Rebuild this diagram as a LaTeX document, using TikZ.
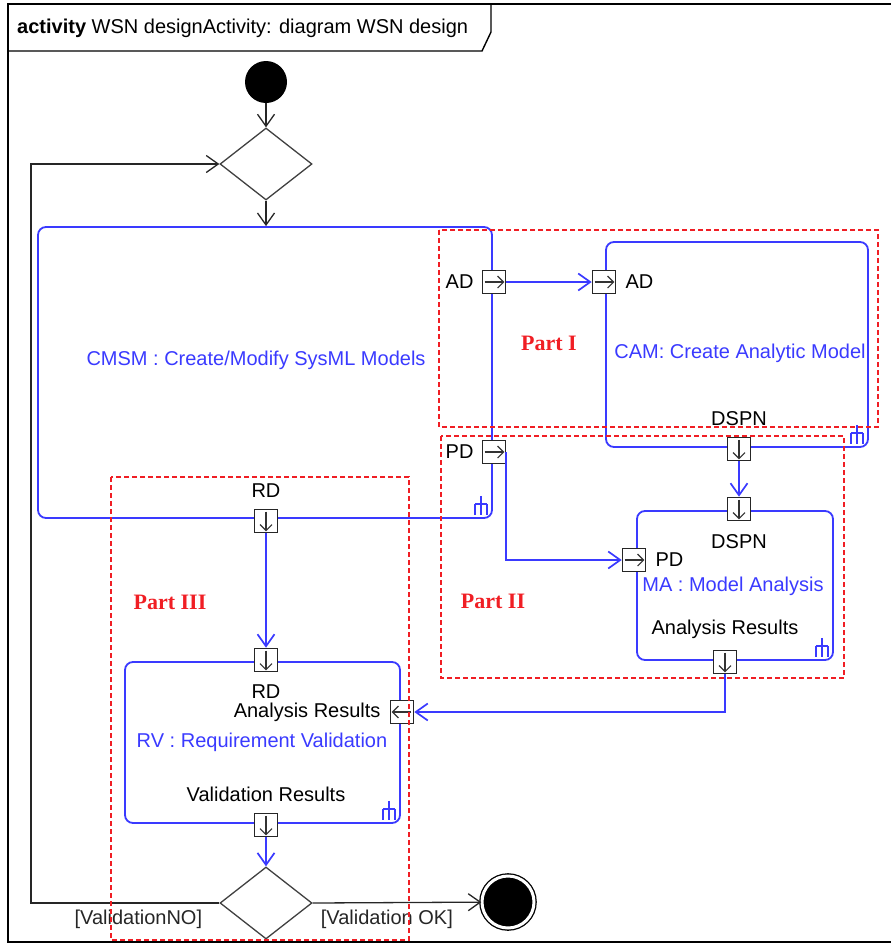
\documentclass[tikz,border=0pt]{standalone}
\usepackage{fontspec}
\setmainfont{Liberation Sans}
\newfontfamily\partfont{Liberation Serif}
\usetikzlibrary{shapes.geometric, arrows.meta, positioning, fit, backgrounds}
\definecolor{umlblue}{RGB}{58,58,255}
\definecolor{partred}{RGB}{240,30,36}

\begin{document}
\begin{tikzpicture}[
  x=1pt, y=-1pt,
  >={Straight Barb[length=12pt, width=17pt]},
  every node/.style={font=\fontsize{20}{24}\selectfont},
  action/.style={rectangle, rounded corners=8pt, draw=umlblue, line width=1.8pt, inner sep=0pt},
  pinbox/.style={rectangle, draw=black!85, fill=white, line width=1.6pt, minimum size=23pt, inner sep=0pt},
  pinlbl/.style={inner sep=0pt},
  pinarrow/.style={draw=black!80, line width=1.1pt, -{Straight Barb[length=6pt, width=12pt]}},
  decision/.style={diamond, draw=black!75, line width=1.3pt, minimum width=92pt, minimum height=72pt, inner sep=0pt},
  flow/.style={draw=umlblue, line width=1.7pt, ->},
  ctrl/.style={draw=black!85, line width=1.3pt, ->},
  part/.style={draw=partred, dashed, dash pattern=on 5pt off 3pt, line width=1.3pt},
  partlbl/.style={text=partred, font=\partfont\bfseries\fontsize{22}{26}\selectfont},
  actlbl/.style={text=umlblue},
  frame/.style={draw=black, line width=1.4pt},
  rake/.pic={\draw[umlblue, line width=1.6pt] (0,-8) -- (0,0) (-6,0) -- (6,0)
    (-6,0) -- (-6,11) (0,0) -- (0,11) (6,0) -- (6,11);},
]
\useasboundingbox (0,0) rectangle (891,945);

% frame and title tab
\draw[frame] (891,4) -- (8,4) -- (8,942) -- (891,942);
\draw[frame] (8,51) -- (482,51) -- (491,32) -- (491,4);
\node[anchor=west, inner sep=0pt] (title) at (17,28) {\textbf{activity} WSN designActivity: diagram WSN design};

% initial node and first decision
\node[circle, fill=black, minimum size=42pt, inner sep=0pt] (start) at (266,82) {};
\node[decision] (dec1) at (266,164) {};

% CMSM
\node[action, minimum width=454pt, minimum height=291pt] (cmsm) at (265,372.5) {};
\node[actlbl] (cmsmlbl) at (256,360) {CMSM : Create/Modify SysML Models};
\node[pinbox] (adout) at (494,282) {};
\node[pinlbl, left=8pt of adout] (adoutlbl) {AD};
\node[pinbox] (pdout) at (494,452) {};
\node[pinlbl, left=8pt of pdout] (pdoutlbl) {PD};
\node[pinbox] (rdout) at (266,521) {};
\node[pinlbl, above=11pt of rdout] (rdoutlbl) {RD};
\pic at ([shift={(-12,-15)}]cmsm.south east) {rake};

% CAM
\node[action, minimum width=262pt, minimum height=205pt] (cam) at (737,344.5) {};
\node[actlbl] (camlbl) at (740,353) {CAM: Create Analytic Model};
\node[pinbox] (adin) at (604,282) {};
\node[pinlbl, right=9pt of adin] (adinlbl) {AD};
\node[pinbox] (dspnout) at (739,449) {};
\node[pinlbl, above=11pt of dspnout] (dspnoutlbl) {DSPN};
\pic at ([shift={(-12,-15)}]cam.south east) {rake};

% MA
\node[action, minimum width=196pt, minimum height=149pt] (ma) at (735,585.5) {};
\node[actlbl] (malbl) at (733,586) {MA : Model Analysis};
\node[pinbox] (dspnin) at (739,509) {};
\node[pinlbl, below=13pt of dspnin] (dspninlbl) {DSPN};
\node[pinbox] (pdin) at (634,560) {};
\node[pinlbl, right=9pt of pdin] (pdinlbl) {PD};
\node[pinbox] (arout) at (725,662) {};
\node[pinlbl, above=11pt of arout] (aroutlbl) {Analysis Results};
\pic at ([shift={(-12,-15)}]ma.south east) {rake};

% RV
\node[action, minimum width=275pt, minimum height=161pt] (rv) at (262.5,742.5) {};
\node[actlbl] (rvlbl) at (262,742) {RV : Requirement Validation};
\node[pinbox] (rdin) at (266,660) {};
\node[pinlbl, below=12pt of rdin] (rdinlbl) {RD};
\node[pinbox] (arin) at (402,712) {};
\node[pinlbl, left=9pt of arin] (arinlbl) {Analysis Results};
\node[pinbox] (vrout) at (266,825) {};
\node[pinlbl, above=11pt of vrout] (vroutlbl) {Validation Results};
\pic at ([shift={(-12,-15)}]rv.south east) {rake};

% second decision and final node
\node[decision] (dec2) at (266,903) {};
\node[circle, fill=black, draw=black, double=white, double distance=3pt, line width=1.3pt, minimum size=52pt, inner sep=0pt] (final) at (508,902) {};
\coordinate (loopbot) at (31,903);
\coordinate (looptop) at (31,164);

% pin arrows
\foreach \p in {adout, pdout, adin, pdin}
  \draw[pinarrow] ([xshift=3pt]\p.west) -- ([xshift=-2pt]\p.east);
\foreach \p in {rdout, rdin, dspnout, dspnin, arout, vrout}
  \draw[pinarrow] ([yshift=-3pt]\p.north) -- ([yshift=2pt]\p.south);
\draw[pinarrow] ([xshift=-3pt]arin.east) -- ([xshift=2pt]arin.west);

% control flows
\draw[ctrl] (start) -- (dec1);
\draw[ctrl] (dec1.south) -- (dec1.south |- cmsm.north);
\draw[ctrl] (dec2.west) -- node[pos=0.43, below=3pt, text=black!85] {[ValidationNO]} (loopbot) -- (looptop) -- (dec1.west);
\draw[ctrl] (dec2.east) -- node[pos=0.44, below=3pt, text=black!85] {[Validation OK]} (final);

% object flows
\draw[flow] (adout.east) -- (adin.west);
\draw[flow] (pdout.east) |- (pdin.west);
\draw[flow] (dspnout) -- (dspnin);
\draw[flow] (arout.south) |- (arin.east);
\draw[flow] (rdout) -- (rdin);
\draw[flow] (vrout.south) -- (dec2.north);

% parts
\draw[part] (439,230) rectangle (878,427);
\draw[part] (441,436) rectangle (844,678);
\draw[part] (111,477) rectangle (409,940);
\node[partlbl] (part1) at (549,343) {Part I};
\node[partlbl] (part2) at (493,601) {Part II};
\node[partlbl] (part3) at (170,602) {Part III};

\end{tikzpicture}
\end{document}
